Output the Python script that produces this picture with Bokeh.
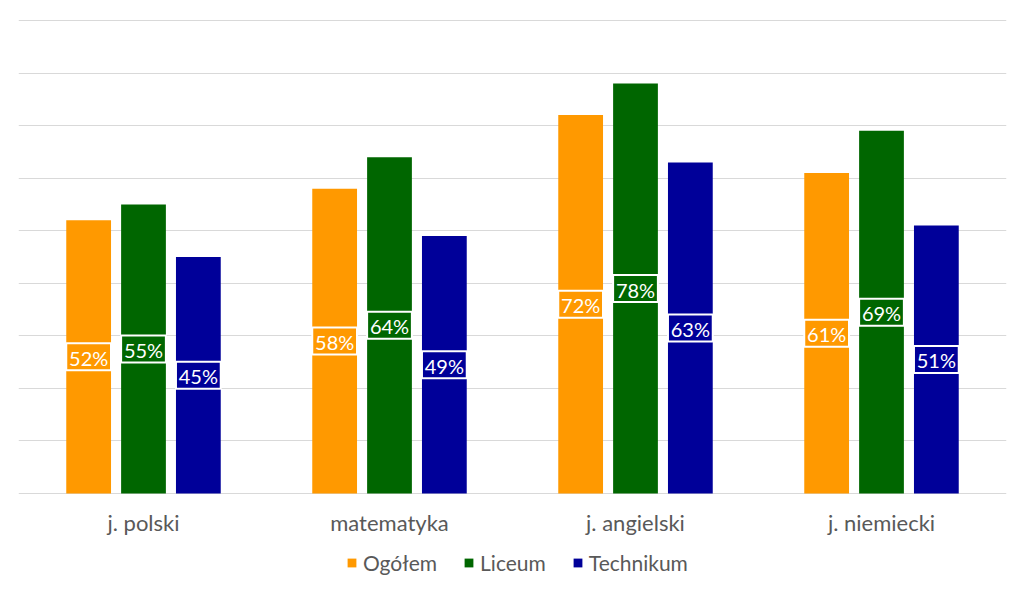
from bokeh.plotting import figure
from bokeh.layouts import column
from bokeh.models import ColumnDataSource, Legend, LegendItem, FixedTicker
from bokeh.core.properties import value
from bokeh.embed import file_html
from bokeh.resources import INLINE

categories = ["j. polski", "matematyka", "j. angielski", "j. niemiecki"]
series_names = ["Ogółem", "Liceum", "Technikum"]
ogolem = [52, 58, 72, 61]
liceum = [55, 64, 78, 69]
technikum = [45, 49, 63, 51]
colors = ["#FF9900", "#006600", "#000099"]

FONT = "Lato"
PX_Y = 5.25   # pixels per percent
PX_X = 246.0  # pixels per category
FW, FH = 988, 477
pad_x = (FW / PX_X - len(categories)) / 2
pad_y = 2 / PX_Y

p = figure(x_range=(-pad_x, len(categories) + pad_x),
           y_range=(-pad_y, 90 + pad_y),
           frame_width=FW, frame_height=FH, output_backend="svg", toolbar_location=None,
           min_border_left=18, min_border_right=10, min_border_top=18, min_border_bottom=0)
p.outline_line_color = None
p.background_fill_color = "white"
p.border_fill_color = "white"

centers = [i + 0.5 for i in range(len(categories))]
bw = 0.182
off = 0.223
series = [ogolem, liceum, technikum]
renderers = []
for vals, name, col, d in zip(series, series_names, colors, [-off, 0, off]):
    src = ColumnDataSource(dict(x=[c + d for c in centers], top=vals,
                                mid=[v / 2 for v in vals], lab=[f"{v}%" for v in vals]))
    r = p.vbar(x="x", top="top", width=bw, source=src, fill_color=col, line_color=None)
    renderers.append(r)
    p.rect(x="x", y="mid", width=bw, height=27, height_units="screen", source=src,
           fill_color=col, line_color="white", line_width=2)
    p.text(x="x", y="mid", text="lab", source=src,
           text_align="center", text_baseline="middle", text_color="white",
           text_font=value(FONT), text_font_size="20px", y_offset=1)

p.yaxis.visible = False
p.ygrid.ticker = FixedTicker(ticks=[0, 10, 20, 30, 40, 50, 60, 70, 80, 90])
p.ygrid.grid_line_color = "#D9D9D9"
p.ygrid.grid_line_width = 1
p.xgrid.grid_line_color = None

p.xaxis.ticker = FixedTicker(ticks=centers)
p.xaxis.major_label_overrides = {c: cat for c, cat in zip(centers, categories)}
p.xaxis.axis_line_color = None
p.xaxis.major_tick_line_color = None
p.xaxis.minor_tick_line_color = None
p.xaxis.major_label_text_font = FONT
p.xaxis.major_label_text_font_size = "22px"
p.xaxis.major_label_text_color = "#595959"
p.xaxis.major_label_standoff = 7

# legend in a separate strip below the chart
lg = figure(x_range=(0, 1), y_range=(0, 1), frame_width=FW + 28, frame_height=52,
            output_backend="svg", toolbar_location=None,
            min_border_left=0, min_border_right=0, min_border_top=0, min_border_bottom=0)
lg.axis.visible = False
lg.grid.visible = False
lg.outline_line_color = None
dummies = []
for name, col in zip(series_names, colors):
    dummies.append(lg.vbar(x=[-5], top=[0], width=0.1, fill_color=col, line_color=None))
items = [LegendItem(label=n, renderers=[r]) for n, r in zip(series_names, dummies)]
legend = Legend(items=items, orientation="horizontal", location=(346, 15))
legend.label_text_font = FONT
legend.label_text_font_size = "21px"
legend.label_text_color = "#595959"
legend.glyph_width = 11
legend.glyph_height = 11
legend.label_standoff = 6
legend.spacing = 26
legend.padding = 0
legend.margin = 0
legend.border_line_color = None
legend.background_fill_alpha = 0
lg.add_layout(legend, "center")

layout = column(p, lg, spacing=0)
open("out.html", "w").write(file_html(layout, INLINE))
